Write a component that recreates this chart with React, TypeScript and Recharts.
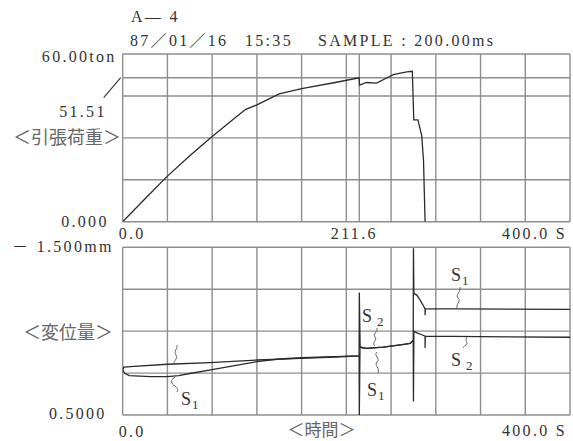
import { LineChart, Line, XAxis, YAxis, CartesianGrid } from "recharts";

// time axis (s)
const topTimeTicks = [0, 40, 80, 120, 160, 200, 211.6, 240, 280, 320, 360, 400];
const bottomTimeTicks = [0, 40, 80, 120, 160, 200, 240, 280, 320, 360, 400];
const loadTicks = [0, 15, 30, 45, 51.51, 60];
const dispTicks = [-1.5, -1, -0.5, 0, 0.5];

// 引張荷重 (ton)
const loadTime = [0, 20, 40, 60, 80, 100, 110, 120, 140, 160, 190, 211.4, 211.8, 218, 227, 236, 242, 254, 259, 260.3, 264, 267.4, 269, 270.4];
const loadValue = [0, 8.2, 16.3, 23.6, 30.5, 37.0, 40.2, 41.8, 45.7, 47.6, 49.8, 51.5, 48.9, 49.8, 49.6, 51.4, 52.6, 53.6, 53.8, 36.4, 36.4, 30.8, 22.0, 0];

// 変位量 (mm) S1
const s1Time = [0, 2, 6, 25, 40, 50, 60, 80, 100, 120, 140, 160, 190, 211.4, 211.6, 212.2, 218, 233, 250, 257, 259.8, 260, 260.4, 263, 266, 269, 270.4, 270.4, 270.6, 300, 400];
const s1Value = [-0.04, 0.005, 0.03, 0.042, 0.043, 0.03, 0.005, -0.04, -0.09, -0.136, -0.168, -0.183, -0.195, -0.204, 0.5, -0.31, -0.295, -0.31, -0.34, -0.355, -0.39, -1.49, -0.95, -0.93, -0.87, -0.8, -0.765, -0.69, -0.765, -0.765, -0.76];

// 変位量 (mm) S2
const s2Time = [0, 1, 10, 40, 78, 120, 159, 190, 211.4, 211.6, 212.3, 214, 218, 233, 250, 257, 259.8, 260, 260.4, 263, 267, 270.4, 270.4, 270.6, 400];
const s2Value = [-0.04, -0.07, -0.08, -0.105, -0.124, -0.156, -0.176, -0.192, -0.204, -0.96, -0.32, -0.3, -0.295, -0.31, -0.34, -0.355, -0.39, 0.34, -0.5, -0.48, -0.46, -0.44, -0.3, -0.44, -0.427];

const zip = (t: number[], v: number[]) => t.map((x, i) => ({ t: x, v: v[i] }));
const loadData = zip(loadTime, loadValue);
const s1Data = zip(s1Time, s1Value);
const s2Data = zip(s2Time, s2Value);

const serif = "'Liberation Serif', 'Noto Sans CJK JP', serif";
const jp = "'Noto Sans CJK JP', sans-serif";
const ink = "#333";
const lineInk = "#2a2a2a";
const gridColor = "#8e8e8e";
const numStyle = { fontFamily: serif, fontSize: 16, letterSpacing: 2.3, fill: ink };

type TickSpec = { [k: string]: { text: string; anchor: string; dx: number; dy: number } };

const makeTick = (spec: TickSpec, extra?: (x: number, y: number, v: number) => any) => (props: any) => {
  const { x, y, payload } = props;
  const s = spec[String(payload.value)];
  if (!s) return <g />;
  return (
    <g>
      <text x={x + s.dx} y={y + s.dy} dominantBaseline="central" textAnchor={s.anchor} style={numStyle}>
        {s.text}
      </text>
      {extra ? extra(x, y, payload.value) : null}
    </g>
  );
};

const TopTimeTick = makeTick({
  "0": { text: "0.0", anchor: "start", dx: -4, dy: 11.5 },
  "211.6": { text: "211.6", anchor: "middle", dx: -5, dy: 11.5 },
  "400": { text: "400.0 S", anchor: "end", dx: -3, dy: 11.5 },
});

const BottomTimeTick = makeTick({
  "0": { text: "0.0", anchor: "start", dx: -4, dy: 16 },
  "400": { text: "400.0 S", anchor: "end", dx: -3, dy: 15.5 },
});

const LoadTick = makeTick(
  {
    "60": { text: "60.00ton", anchor: "end", dx: -6, dy: 2 },
    "51.51": { text: "51.51", anchor: "end", dx: -16, dy: 33.5 },
    "0": { text: "0.000", anchor: "end", dx: -14, dy: 0 },
  },
  (x, y, v) =>
    v === 51.51 ? <line x1={x - 19} y1={y + 20} x2={x - 2} y2={y} stroke={ink} strokeWidth={1.1} /> : null
);

const DispTick = makeTick({
  "-1.5": { text: "－ 1.500mm", anchor: "end", dx: -9, dy: -0.5 },
  "0.5": { text: "0.5000", anchor: "end", dx: -16, dy: -1.5 },
});

const labelStyle = { fontFamily: serif, fontSize: 16, letterSpacing: 2.3, fill: ink };
const jpStyle = { fontFamily: jp, fontSize: 18, fill: "#666" };
const sStyle = { fontFamily: serif, fontSize: 18, fill: ink };

function SLabel({ x, y, n, gap }: { x: number; y: number; n: string; gap?: boolean }) {
  return (
    <text x={x} y={y} style={sStyle}>
      S
      <tspan dx={gap ? 5 : 1} dy={4} fontSize={13}>
        {n}
      </tspan>
    </text>
  );
}

export default function App() {
  return (
    <div style={{ position: "absolute", left: 0, top: 0, width: 573, height: 441, background: "#fff" }}>
      <div style={{ position: "absolute", left: 0, top: 0 }}>
        <LineChart width={573} height={244} margin={{ top: 54, right: 3, bottom: 0, left: 0 }}>
          <CartesianGrid stroke={gridColor} strokeWidth={1.4} />
          <XAxis
            dataKey="t"
            type="number"
            domain={[0, 400]}
            ticks={topTimeTicks}
            interval={0}
            height={22.3}
            tickSize={0}
            tickMargin={0}
            axisLine={false}
            tick={TopTimeTick}
            allowDataOverflow
          />
          <YAxis
            type="number"
            domain={[0, 60]}
            ticks={loadTicks}
            interval={0}
            width={122.7}
            tickSize={0}
            tickMargin={0}
            axisLine={false}
            tick={LoadTick}
            allowDataOverflow
          />
          <Line data={loadData} dataKey="v" type="linear" stroke={lineInk} strokeWidth={1.3} dot={false} isAnimationActive={false} />
        </LineChart>
      </div>
      <div style={{ position: "absolute", left: 0, top: 236 }}>
        <LineChart width={573} height={205} margin={{ top: 11.3, right: 3, bottom: 0, left: 0 }}>
          <CartesianGrid stroke={gridColor} strokeWidth={1.4} />
          <XAxis
            dataKey="t"
            type="number"
            domain={[0, 400]}
            ticks={bottomTimeTicks}
            interval={0}
            height={26}
            tickSize={0}
            tickMargin={0}
            axisLine={false}
            tick={BottomTimeTick}
            allowDataOverflow
          />
          <YAxis
            type="number"
            domain={[-1.5, 0.5]}
            reversed
            ticks={dispTicks}
            interval={0}
            width={122.7}
            tickSize={0}
            tickMargin={0}
            axisLine={false}
            tick={DispTick}
            allowDataOverflow
          />
          <Line data={s1Data} dataKey="v" type="linear" stroke={lineInk} strokeWidth={1.3} dot={false} isAnimationActive={false} />
          <Line data={s2Data} dataKey="v" type="linear" stroke={lineInk} strokeWidth={1.3} dot={false} isAnimationActive={false} />
        </LineChart>
      </div>
      <svg width={573} height={441} style={{ position: "absolute", left: 0, top: 0, pointerEvents: "none" }}>
        <text x={131} y={16} dominantBaseline="central" style={labelStyle}>A— 4</text>
        <text x={130} y={40} dominantBaseline="central" style={labelStyle}>87／01／16</text>
        <text x={245} y={40} dominantBaseline="central" style={labelStyle}>15:35</text>
        <text x={318} y={40} dominantBaseline="central" style={labelStyle}>SAMPLE : 200.00ms</text>

        <text x={121} y={136} dominantBaseline="central" textAnchor="end" style={jpStyle}>＜引張荷重＞</text>
        <text x={113} y={331} dominantBaseline="central" textAnchor="end" style={jpStyle}>＜変位量＞</text>
        <text x={321.5} y={428} dominantBaseline="central" textAnchor="middle" style={{ ...jpStyle, fontSize: 17 }}>＜時間＞</text>

        <g fill="none" stroke="#555" strokeWidth={0.9}>
          <path d="M175,365 c-4,-3 4,-6 1,-10 c-3,-4 2,-6 1,-10" />
          <path d="M175,377 c-5,3 -4,7 0,9 c3,2 3,4 2,6" />
          <path d="M375,346 c-4,-3 3,-6 0,-9 c-3,-3 3,-5 2,-9" />
          <path d="M377,352 c-4,4 4,6 0,10 c-3,3 3,6 1,11" />
          <path d="M458,309 c-4,-4 4,-7 0,-11 c-3,-3 3,-6 2,-11" />
          <path d="M467,337 c-3,3 2,6 -1,8 c-2,1 -2,2 -3,3" />
        </g>
        <SLabel x={181} y={405} n="1" />
        <SLabel x={362} y={322} n="2" gap />
        <SLabel x={367} y={396} n="1" />
        <SLabel x={451} y={281} n="1" />
        <SLabel x={451} y={366} n="2" gap />
      </svg>
    </div>
  );
}
